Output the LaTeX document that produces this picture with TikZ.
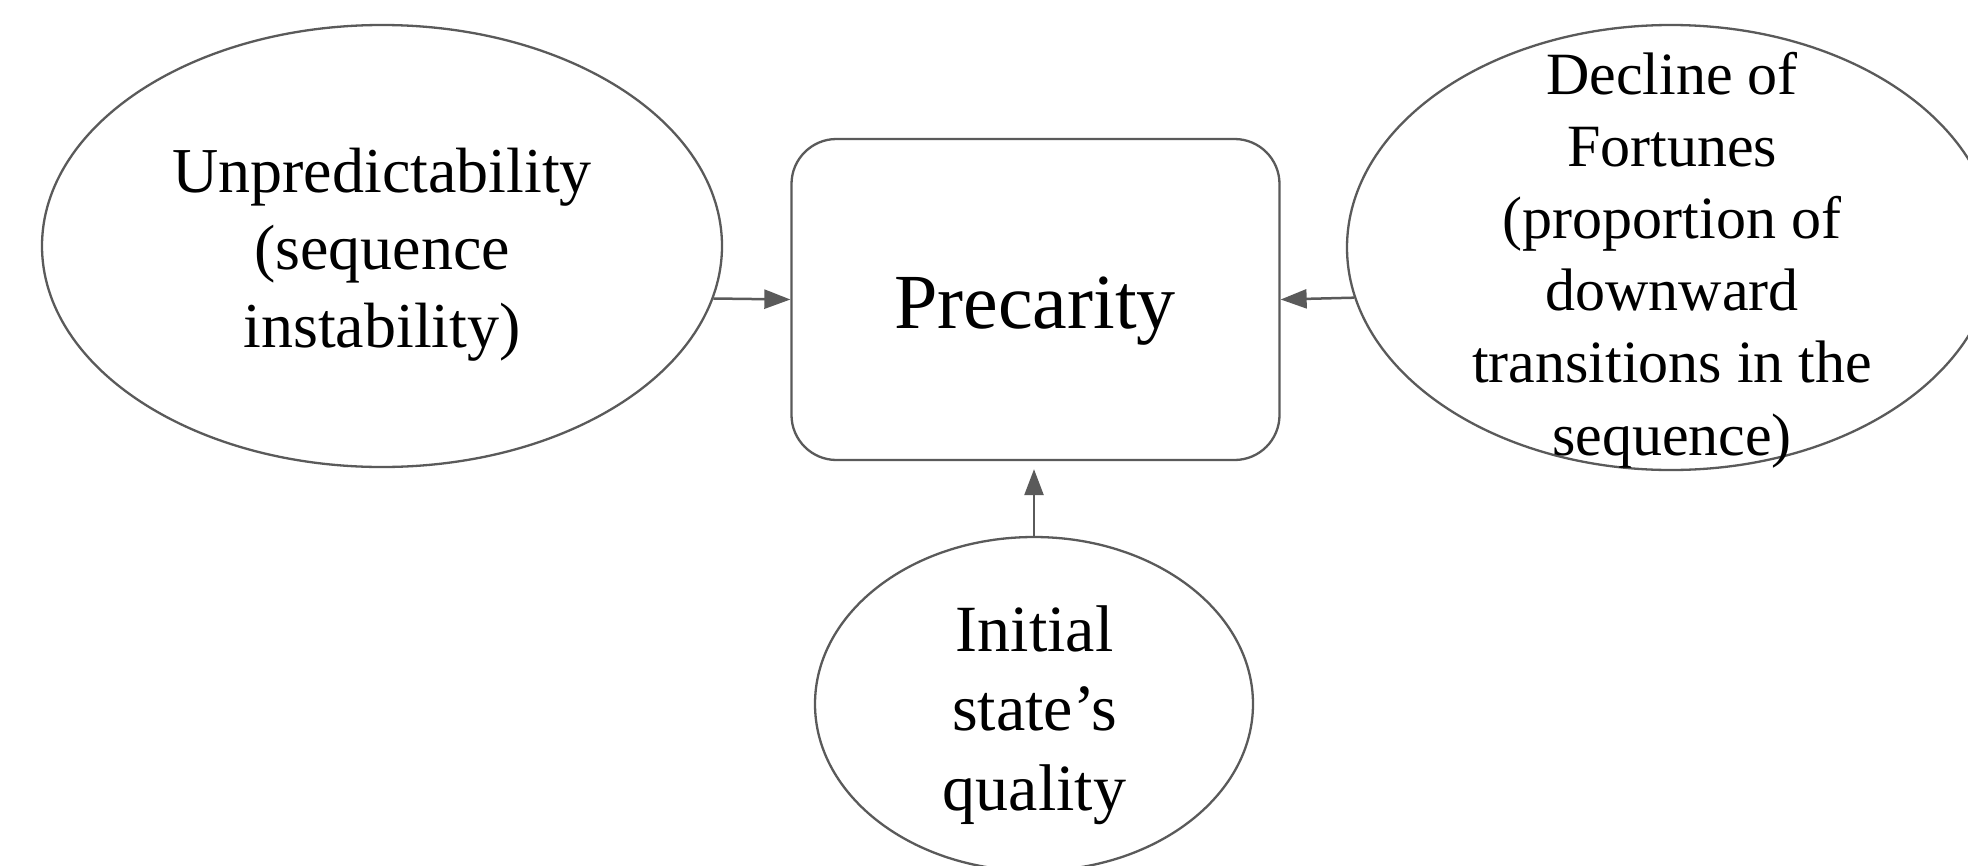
\documentclass[tikz,border=0pt]{standalone}
\usepackage{fontspec}
\setmainfont{Liberation Serif}
\usetikzlibrary{shapes.geometric,arrows.meta}
\definecolor{edgegray}{HTML}{5A5A5A}
\begin{document}
\begin{tikzpicture}[x=1pt,y=-1pt,
  ellbox/.style={ellipse, draw=edgegray, line width=2.3pt, inner sep=0pt, fill=white},
  roundbox/.style={rectangle, draw=edgegray, line width=2.3pt, inner sep=0pt, rounded corners=45pt},
  lbl/.style={anchor=base, inner sep=0pt, text=black},
  conn/.style={draw=edgegray, line width=2.5pt, -{Triangle[length=26pt,width=19pt]}}]
\useasboundingbox (0,0) rectangle (1968,865);
\clip (0,0) rectangle (1968,865);
\fill[white] (0,0) rectangle (1968,865);
\setlength\tabcolsep{0pt}
% shapes
\node[ellbox, minimum width=680pt, minimum height=442pt] (L) at (382,246) {};
\node[ellbox, minimum width=648pt, minimum height=445pt] (R) at (1671,247.5) {};
\node[ellbox, minimum width=438pt, minimum height=334pt] (B) at (1034,704) {};
\node[roundbox, minimum width=488pt, minimum height=321pt] (P) at (1035.5,299.5) {};
% texts
\node[lbl, font=\fontsize{64}{77.5}\selectfont] (Lt) at (382,192)
  {\begin{tabular}[t]{c}Unpredictability\\(sequence\\instability)\end{tabular}};
\node[lbl, font=\fontsize{60}{72.2}\selectfont] (Rt) at (1672,94)
  {\begin{tabular}[t]{c}Decline of\\Fortunes\\(proportion of\\downward\\transitions in the\\sequence)\end{tabular}};
\node[lbl, font=\fontsize{66}{79.5}\selectfont] (Bt) at (1034.5,651)
  {\begin{tabular}[t]{c}Initial\\state’s\\quality\end{tabular}};
\node[lbl, font=\fontsize{78}{90}\selectfont] (Pt) at (1035,328) {Precarity};
% connectors
\draw[conn] (L.-9.2) -- (P.west);
\draw[conn] (R.189.4) -- (P.east);
\draw[conn, shorten >=8pt] (B.north) -- (B.north |- P.south);
\end{tikzpicture}
\end{document}
